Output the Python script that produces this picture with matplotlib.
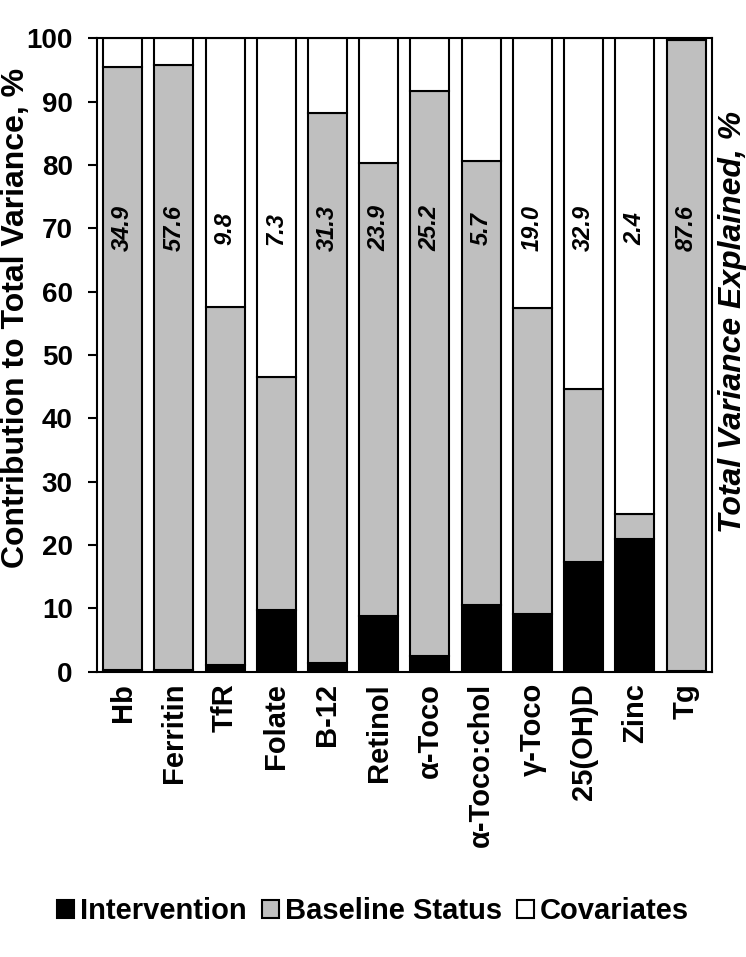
import matplotlib
matplotlib.use('Agg')
import matplotlib.pyplot as plt
import numpy as np

plt.rcParams['font.family'] = ['Liberation Sans', 'DejaVu Sans']
plt.rcParams['font.weight'] = 'bold'

#Chart data
categories = ['Hb', 'Ferritin', 'TfR', 'Folate', 'B-12', 'Retinol', '\u03b1-Toco',
              '\u03b1-Toco:chol', '\u03b3-Toco', '25(OH)D', 'Zinc', 'Tg']
intervention = [0.3, 0.3, 1.1, 9.7, 1.4, 8.8, 2.5, 10.6, 9.1, 17.4, 20.9, 0.2]
baseline_top = [95.5, 95.8, 57.6, 46.6, 88.2, 80.3, 91.6, 80.7, 57.4, 44.7, 24.9, 99.8]
total_explained = ['34.9', '57.6', '9.8', '7.3', '31.3', '23.9', '25.2', '5.7',
                   '19.0', '32.9', '2.4', '87.6']

baseline = [b - i for b, i in zip(baseline_top, intervention)]
covariates = [100 - b for b in baseline_top]

fig = plt.figure(figsize=(7.46, 9.57), dpi=100)
ax = fig.add_axes([0.130, 0.298, 0.824, 0.662])

x = np.arange(len(categories))
w = 0.76
ax.bar(x, intervention, w, color='black', edgecolor='black', linewidth=1.5,
       label='Intervention')
ax.bar(x, baseline, w, bottom=intervention, color='#bfbfbf', edgecolor='black',
       linewidth=1.5, label='Baseline Status')
ax.bar(x, covariates, w, bottom=baseline_top, color='white', edgecolor='black',
       linewidth=1.5, label='Covariates')

#Total variance explained labels
for xi, t in zip(x, total_explained):
    ax.text(xi, 70, t, ha='center', va='center', rotation=90, fontsize=17,
            fontweight='bold', fontstyle='italic')

ax.set_xlim(-0.5, 11.5)
ax.set_ylim(0, 100)
ax.set_yticks(np.arange(0, 101, 10))
ax.tick_params(axis='y', labelsize=20, width=1.5, length=6.5, pad=11)
ax.set_xticks(x)
ax.set_xticklabels(categories, rotation=90, fontsize=21, fontweight='bold')
ax.tick_params(axis='x', length=0, pad=8)
for s in ax.spines.values():
    s.set_linewidth(1.5)

fig.text(0.021, 0.668, 'Contribution to Total Variance, %', rotation=90,
         ha='center', va='center', fontsize=23, fontweight='bold')
fig.text(0.982, 0.664, 'Total Variance Explained, %', rotation=90, ha='center',
         va='center', fontsize=23, fontweight='bold', fontstyle='italic')

fig.legend(loc='center', bbox_to_anchor=(0.5, 0.048), ncol=3, frameon=False,
           handlelength=0.6, handleheight=0.6, handletextpad=0.2,
           columnspacing=0.5, prop={'weight': 'bold', 'size': 21})

fig.savefig('out.png', dpi=100)
